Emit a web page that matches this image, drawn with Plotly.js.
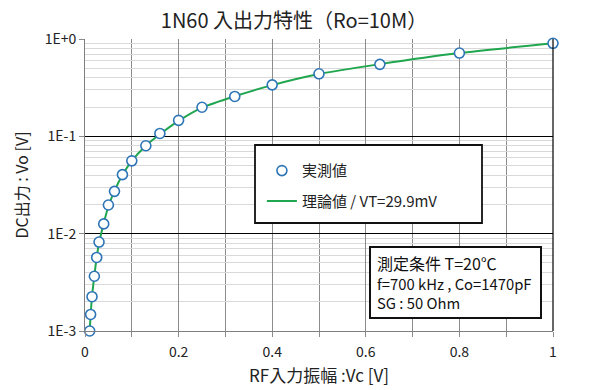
<!DOCTYPE html>
<html><head><meta charset="utf-8">
<script src="https://cdn.plot.ly/plotly-3.0.1.min.js"></script>
<style>html,body{margin:0;padding:0;background:#fff}#c{width:600px;height:390px}</style>
</head><body><div id="c"></div>
<script>
const measX = [0.01, 0.012, 0.015, 0.02, 0.025, 0.03, 0.04, 0.05, 0.063, 0.08, 0.1, 0.13, 0.16, 0.2, 0.25, 0.32, 0.4, 0.5, 0.63, 0.8, 1.0];
const measY = [0.00100, 0.00148, 0.00225, 0.00365, 0.0057, 0.0082, 0.0126, 0.0197, 0.0272, 0.0404, 0.056, 0.080, 0.107, 0.146, 0.199, 0.257, 0.338, 0.439, 0.549, 0.717, 0.903];
const theoX = [0.01, 0.012, 0.015, 0.02, 0.025, 0.03, 0.04, 0.05, 0.063, 0.08, 0.1, 0.13, 0.16, 0.2, 0.25, 0.32, 0.4, 0.5, 0.63, 0.8, 1.0];
const theoY = [0.00100, 0.00146, 0.00226, 0.00370, 0.0057, 0.0080, 0.0128, 0.0190, 0.0275, 0.0400, 0.056, 0.080, 0.105, 0.144, 0.197, 0.258, 0.336, 0.437, 0.552, 0.717, 0.903];
const xTickVals = [0, 0.2, 0.4, 0.6, 0.8, 1];
const xTickText = ['0', '0.2', '0.4', '0.6', '0.8', '1'];
const yTickVals = [0.001, 0.01, 0.1, 1];
const yTickText = ['1E-3', '1E-2', '1E-1', '1E+0'];
const yMinorVals = [0.002,0.003,0.004,0.005,0.006,0.007,0.008,0.009,0.02,0.03,0.04,0.05,0.06,0.07,0.08,0.09,0.2,0.3,0.4,0.5,0.6,0.7,0.8,0.9];
const noteLines = ['測定条件 T=20℃', 'f=700 kHz , Co=1470pF', 'SG : 50 Ohm'];
const F = '"Noto Sans CJK JP", "Noto Sans", sans-serif';

const data = [
  {x: theoX, y: theoY, name: '理論値 / VT=29.9mV', type: 'scatter', mode: 'lines', legendgroup: 'b', legendrank: 2,
   line: {color: '#1FA64E', width: 2, shape: 'spline', smoothing: 0.6}},
  {x: measX, y: measY, name: '実測値', type: 'scatter', mode: 'markers', legendgroup: 'a', legendrank: 1,
   cliponaxis: false,
   marker: {symbol: 'circle', size: 10, color: '#ffffff', line: {color: '#2E75B6', width: 1.6}}}
];

// note box geometry in paper coords (plot area: x 85.5..552.5, y 39..331 px)
const pxX = v => (v - 85) / 468;
const pxY = v => (331 - v) / 292;
const noteY = [263, 283, 302];
const noteSize = [16, 14.8, 14.8];

const layout = {
  width: 600, height: 390,
  margin: {l: 85, r: 47, t: 39, b: 59},
  paper_bgcolor: '#fff', plot_bgcolor: '#fff',
  font: {family: F, size: 14, color: '#222'},
  showlegend: true,
  title: {text: '1N60 入出力特性（Ro=10M）', font: {family: F, size: 20, color: '#222'},
          x: 0.49, xref: 'container', xanchor: 'center', y: 0.945, yref: 'container', yanchor: 'middle'},
  xaxis: {
    range: [0, 1], tickvals: xTickVals, ticktext: xTickText,
    showgrid: true, gridcolor: '#8c8c8c', gridwidth: 1,
    minor: {dtick: 0.1, tick0: 0, showgrid: true, gridcolor: '#8c8c8c', gridwidth: 1, ticks: 'outside', ticklen: 5, tickcolor: '#8c8c8c'},
    ticks: 'outside', ticklen: 5, tickcolor: '#8c8c8c', ticklabelstandoff: 3,
    showline: true, linecolor: '#7f7f7f', linewidth: 1, mirror: false,
    zeroline: false,
    tickfont: {family: F, size: 14, color: '#222'},
    title: {text: 'RF入力振幅 :Vc [V]', font: {family: F, size: 17, color: '#222'}, standoff: 10}
  },
  yaxis: {
    type: 'log', range: [-3, 0],
    tickvals: yTickVals, ticktext: yTickText,
    showgrid: true, gridcolor: '#000000', gridwidth: 1.2,
    minor: {tickvals: yMinorVals, showgrid: true, gridcolor: '#d9d9d9', gridwidth: 1},
    ticks: 'outside', ticklen: 5, tickcolor: '#8c8c8c',
    showline: true, linecolor: '#7f7f7f', linewidth: 1,
    zeroline: false,
    tickfont: {family: F, size: 14, color: '#222'},
    title: {text: 'DC出力 : Vo [V]', font: {family: F, size: 16, color: '#222'}, standoff: 12}
  },
  legend: {
    x: 0.378, xref: 'paper', xanchor: 'left', y: 0.605, yref: 'paper', yanchor: 'top',
    bgcolor: 'rgba(0,0,0,0)', borderwidth: 0,
    traceorder: 'grouped', tracegroupgap: 8,
    font: {family: F, size: 15, color: '#222'}
  },
  shapes: [
    {type: 'rect', xref: 'paper', yref: 'paper', x0: pxX(255), x1: pxX(482), y0: pxY(223), y1: pxY(145),
     line: {color: '#111', width: 1.8}, fillcolor: '#ffffff', layer: 'above'},
    {type: 'rect', xref: 'paper', yref: 'paper', x0: pxX(370), x1: pxX(541), y0: pxY(318), y1: pxY(247),
     line: {color: '#111', width: 2}, fillcolor: '#ffffff', layer: 'above'},
    {type: 'line', xref: 'paper', yref: 'paper', x0: 1, x1: 1, y0: 0, y1: 1,
     line: {color: '#000', width: 1.2}, layer: 'above'}
  ],
  annotations: noteLines.map((t, i) => ({
    xref: 'paper', yref: 'paper', x: pxX(375), y: pxY(noteY[i]), xanchor: 'left', yanchor: 'middle',
    align: 'left', showarrow: false, text: t,
    font: {family: F, size: noteSize[i], color: '#111'}
  }))
};
Plotly.newPlot('c', data, layout, {displayModeBar: false, staticPlot: true});
</script></body></html>
